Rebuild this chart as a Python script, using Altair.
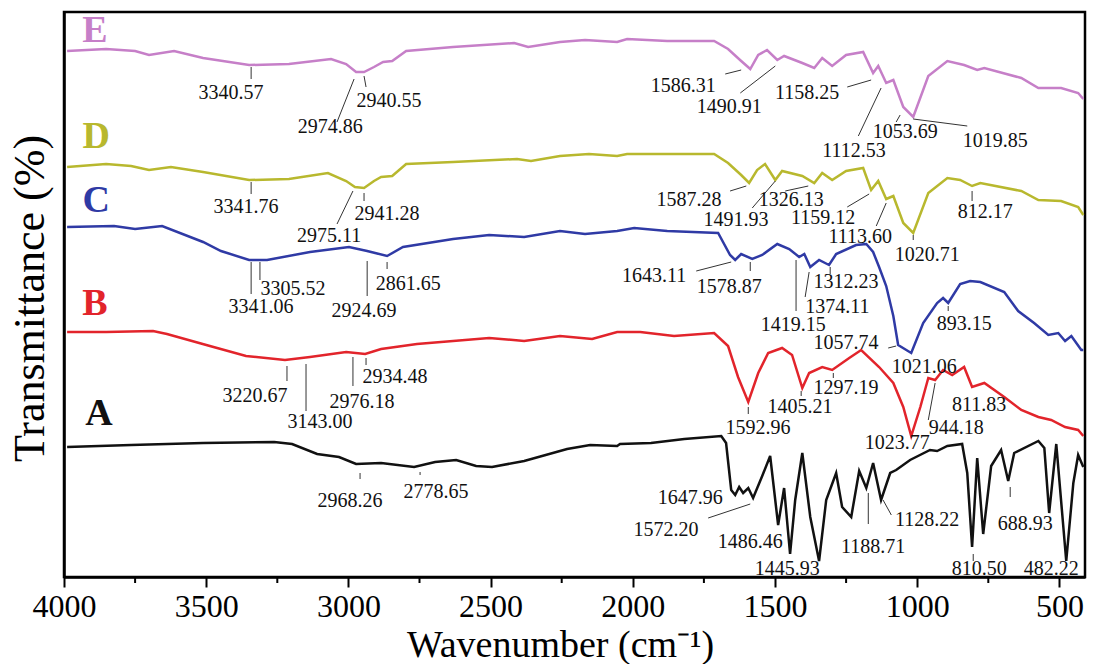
import altair as alt
import pandas as pd

# ---------------- spectra (wavenumber cm-1, offset transmittance in arb. units) ----------------
E_WN = [3989, 3852, 3750, 3701, 3613, 3511, 3349, 3209, 3061, 3008, 2973, 2945, 2910, 2878, 2846, 2797,
        2632, 2417, 2368, 2256, 2168, 2055, 2020, 1879, 1714, 1665, 1619, 1587, 1559, 1528, 1492, 1468,
        1404, 1362, 1334, 1299, 1250, 1190, 1155, 1137, 1109, 1084, 1049, 1014, 961, 894, 835, 789, 764,
        634, 574, 494, 434, 416]
E_T = [526, 528, 526, 522, 526, 519, 512, 513, 518, 513, 505, 505, 510, 515, 516, 526,
       530, 534, 530, 535, 537, 535, 538, 536, 536, 528, 516, 508, 522, 527, 517, 521,
       514, 509, 519, 511, 522, 525, 504, 511, 494, 497, 470, 460, 501, 516, 512, 507, 509,
       499, 489, 489, 484, 478]

D_WN = [3989, 3852, 3764, 3701, 3624, 3511, 3349, 3209, 3072, 3008, 2977, 2945, 2910, 2885, 2846, 2797,
        2632, 2407, 2358, 2256, 2154, 2055, 2020, 1714, 1665, 1619, 1591, 1563, 1535, 1499, 1475, 1404,
        1362, 1334, 1299, 1250, 1190, 1162, 1137, 1109, 1084, 1049, 1014, 961, 894, 849, 807, 778,
        634, 574, 494, 434, 416]
D_T = [410, 413, 411, 407, 410, 405, 397, 398, 404, 396, 390, 389, 396, 400, 401, 413,
       415, 418, 416, 421, 423, 421, 423, 423, 414, 402, 394, 407, 413, 397, 406, 401,
       394, 404, 397, 406, 409, 387, 396, 378, 381, 354, 344, 384, 399, 397, 391, 394,
       386, 377, 376, 370, 362]

C_WN = [3989, 3824, 3750, 3655, 3511, 3448, 3349, 3286, 3135, 2998, 2934, 2864, 2808, 2632, 2505, 2382,
        2256, 2168, 2055, 1995, 1879, 1700, 1658, 1640, 1619, 1580, 1545, 1492, 1450, 1415, 1397, 1376,
        1345, 1310, 1285, 1215, 1179, 1155, 1134, 1109, 1084, 1067, 1021, 979, 930, 909, 891, 849, 814,
        778, 694, 645, 589, 539, 504, 480, 458, 423, 416]
C_T = [350, 351, 348, 351, 335, 326, 317, 317, 325, 330, 326, 321, 330, 338, 342, 340,
       346, 343, 346, 349, 346, 344, 322, 317, 323, 318, 322, 333, 328, 320, 323, 310,
       317, 312, 323, 332, 333, 325, 310, 291, 261, 232, 224, 254, 274, 279, 274, 293, 296,
       295, 285, 266, 254, 242, 244, 236, 241, 227, 227]

B_WN = [3989, 3852, 3687, 3638, 3487, 3360, 3223, 3135, 3008, 2941, 2885, 2759, 2505, 2382, 2256, 2143,
        2055, 1974, 1855, 1714, 1665, 1630, 1594, 1559, 1524, 1475, 1440, 1404, 1380, 1334, 1299, 1239,
        1197, 1134, 1084, 1049, 1021, 989, 961, 937, 909, 877, 835, 807, 764, 694, 634, 574, 529, 480,
        434, 416]
B_T = [245, 245, 246, 243, 231, 221, 217, 220, 225, 223, 228, 233, 239, 236, 241, 238,
       245, 245, 241, 244, 231, 200, 175, 204, 224, 229, 222, 189, 204, 210, 207, 219,
       227, 210, 194, 170, 141, 170, 199, 197, 207, 202, 210, 190, 194, 180, 167, 160, 157, 150,
       147, 141]

A_WN = [3989, 3764, 3511, 3261, 3198, 3110, 3033, 2973, 2885, 2769, 2695, 2621, 2551, 2495, 2382, 2231,
        2150, 2055, 2045, 1936, 1819, 1689, 1672, 1654, 1640, 1626, 1612, 1594, 1577, 1545, 1517, 1489,
        1468, 1447, 1429, 1404, 1376, 1345, 1320, 1285, 1264, 1232, 1204, 1179, 1155, 1127, 1095, 1074,
        1025, 955, 930, 894, 842, 824, 807, 789, 768, 740, 705, 680, 659, 574, 553, 536, 511, 476,
        451, 434, 416]
A_T = [130, 132, 134, 135, 133, 123, 120, 113, 114, 110, 115, 117, 111, 110, 116, 128,
       132, 131, 133, 134, 138, 141, 134, 87, 82, 90, 84, 89, 79, 101, 121, 52,
       89, 23, 77, 124, 60, 16, 77, 104, 70, 60, 106, 89, 114, 77, 104, 107,
       117, 127, 126, 131, 133, 104, 30, 119, 43, 111, 127, 96, 124, 136, 129, 64, 133, 16,
       94, 122, 110]

SERIES = ["A", "B", "C", "D", "E"]
COLORS = ["#111111", "#e2242b", "#2f3aa5", "#b8b82e", "#c67fc8"]

# curve letters
LETTER_WN = [3877, 3891, 3887, 3887, 3891]
LETTER_T = [163, 273, 376, 440, 546]

# peak annotations
LBL_TEXT = ["3340.57", "2940.55", "2974.86", "1586.31", "1490.91", "1158.25", "1112.53", "1053.69", "1019.85",
            "3341.76", "2941.28", "2975.11", "1587.28", "1491.93", "1326.13", "1159.12", "1113.60", "1020.71", "812.17",
            "3305.52", "3341.06", "2924.69", "2861.65", "1643.11", "1578.87", "1419.15", "1374.11", "1312.23", "1057.74", "1021.06", "893.15",
            "3220.67", "3143.00", "2976.18", "2934.48", "1592.96", "1405.21", "1297.19", "1023.77", "944.18", "811.83",
            "2968.26", "2778.65", "1647.96", "1572.20", "1486.46", "1445.93", "1188.71", "1128.22", "688.93", "810.50", "482.22"]
LBL_WN = [3413, 2857, 3064, 1823, 1661, 1387, 1222, 1042, 726,
          3360, 2864, 3068, 1802, 1637, 1443, 1331, 1200, 965, 761,
          3195, 3307, 2945, 2790, 1925, 1661, 1436, 1281, 1250, 1250, 975, 835,
          3328, 3100, 2952, 2836, 1560, 1412, 1250, 1070, 863, 782,
          2994, 2692, 1798, 1883, 1587, 1457, 1155, 965, 620, 782, 529]
LBL_T = [484, 476, 450, 491, 470, 484, 426, 445, 436,
         370, 363, 341, 377, 357, 377, 359, 340, 322, 365,
         288, 270, 266, 293, 301, 290, 252, 270, 295, 234, 210, 253,
         181, 155, 175, 200, 149, 170, 189, 134, 149, 172,
         76, 85, 79, 47, 35, 8, 30, 57, 53, 8, 8]

# leader lines
LDR_WN1 = [3342, 2945, 2980, 1675, 1622, 1246, 1127, 1060, 1014,
           3342, 2945, 2984, 1658, 1580, 1464, 1246, 1144, 1014, 807,
           3311, 3342, 2934, 2864, 1777, 1587, 1426, 1380, 1306, 1102, 891,
           3216, 3149, 2984, 2938, 1594, 1408, 1295, 937,
           2959, 2748, 1735, 1172, 1120, 673, 803]
LDR_T1 = [510, 501, 498, 503, 484, 490, 489, 462, 458,
          395, 384, 386, 386, 369, 386, 370, 351, 342, 386,
          315, 315, 316, 315, 306, 315, 317, 305, 310, 229, 271,
          211, 213, 220, 219, 170, 186, 204, 194,
          104, 105, 59, 84, 77, 90, 23]
LDR_WN2 = [3342, 2938, 3040, 1619, 1499, 1162, 1207, 1074, 824,
           3342, 2945, 3040, 1601, 1499, 1383, 1169, 1109, 1014, 807,
           3311, 3342, 2934, 2864, 1654, 1587, 1426, 1394, 1306, 1074, 891,
           3216, 3149, 2984, 2938, 1594, 1408, 1295, 961,
           2959, 2748, 1587, 1172, 1091, 673, 803]
LDR_T2 = [498, 490, 455, 507, 511, 497, 441, 455, 451,
          383, 376, 353, 391, 396, 391, 383, 374, 337, 376,
          297, 283, 281, 308, 315, 306, 266, 280, 303, 231, 266,
          196, 166, 191, 212, 163, 181, 199, 157,
          98, 102, 73, 53, 62, 80, 16]

MAJOR_TICKS = [4000, 3500, 3000, 2500, 2000, 1500, 1000, 500]
MINOR_TICKS = [3750, 3250, 2750, 2250, 1750, 1250, 750]

# ---------------- tables ----------------
rows = []
for name, wn, t in [("A", A_WN, A_T), ("B", B_WN, B_T), ("C", C_WN, C_T), ("D", D_WN, D_T), ("E", E_WN, E_T)]:
    for w, v in zip(wn, t):
        rows.append({"series": name, "wn": w, "t": v})
spec_df = pd.DataFrame(rows)
letters_df = pd.DataFrame({"series": SERIES, "wn": LETTER_WN, "t": LETTER_T})
labels_df = pd.DataFrame({"text": LBL_TEXT, "wn": LBL_WN, "t": LBL_T})
leaders_df = pd.DataFrame({"wn": LDR_WN1, "t": LDR_T1, "wn2": LDR_WN2, "t2": LDR_T2})
minor_df = pd.DataFrame({"wn": MINOR_TICKS})

FONT = "Liberation Serif"
x_scale = alt.Scale(domain=[410, 4000], reverse=True, nice=False, zero=False)
y_scale = alt.Scale(domain=[0, 565], nice=False, zero=False)
color_scale = alt.Scale(domain=SERIES, range=COLORS)

x_axis = alt.Axis(values=MAJOR_TICKS, title="Wavenumber (cm⁻¹)", format="d",
                  labelFont=FONT, labelFontSize=32, labelColor="black",
                  labelBaseline="alphabetic", labelPadding=29, labelFlush=False,
                  tickSize=10, tickWidth=2, tickColor="black",
                  domainColor="black", domainWidth=2.5, grid=False,
                  titleFont=FONT, titleFontSize=38, titleFontWeight="normal", titleColor="black",
                  titleX=496, titleY=79, titleAnchor="start", titleAlign="center",
                  titleBaseline="alphabetic")
y_axis = alt.Axis(labels=False, ticks=False, grid=False, title="Transmittance (%)",
                  domainColor="black", domainWidth=2.5,
                  titleFont=FONT, titleFontSize=44, titleFontWeight="normal", titleColor="black",
                  titleX=-34, titleY=286, titleAlign="center", titleBaseline="middle", titleAngle=-90)

lines = alt.Chart(spec_df).mark_line(strokeWidth=2.5, clip=True).encode(
    x=alt.X("wn:Q", scale=x_scale, axis=x_axis),
    y=alt.Y("t:Q", scale=y_scale, axis=y_axis),
    color=alt.Color("series:N", scale=color_scale, legend=None),
)

leaders = alt.Chart(leaders_df).mark_rule(strokeWidth=1, color="#333333").encode(
    x=alt.X("wn:Q", scale=x_scale), x2="wn2:Q",
    y=alt.Y("t:Q", scale=y_scale), y2="t2:Q",
)

labels = alt.Chart(labels_df).mark_text(font=FONT, fontSize=20, color="#111111",
                                        align="center", baseline="middle").encode(
    x=alt.X("wn:Q", scale=x_scale), y=alt.Y("t:Q", scale=y_scale), text="text:N",
)

letters = alt.Chart(letters_df).mark_text(font=FONT, fontSize=38, fontWeight="bold",
                                          align="center", baseline="middle").encode(
    x=alt.X("wn:Q", scale=x_scale), y=alt.Y("t:Q", scale=y_scale), text="series:N",
    color=alt.Color("series:N", scale=color_scale, legend=None),
)

minor = alt.Chart(minor_df).mark_rule(strokeWidth=2, color="black").encode(
    x=alt.X("wn:Q", scale=x_scale), y=alt.value(565), y2=alt.value(571),
)

chart = alt.layer(lines, leaders, labels, letters, minor).properties(
    width=1021, height=565,
    autosize=alt.AutoSizeParams(type="none"),
    padding={"left": 64, "top": 12, "right": 8, "bottom": 87},
    background="white",
).configure_view(stroke="black", strokeWidth=2.5)

chart.save("out.html", embed_options={"renderer": "svg", "actions": False})
